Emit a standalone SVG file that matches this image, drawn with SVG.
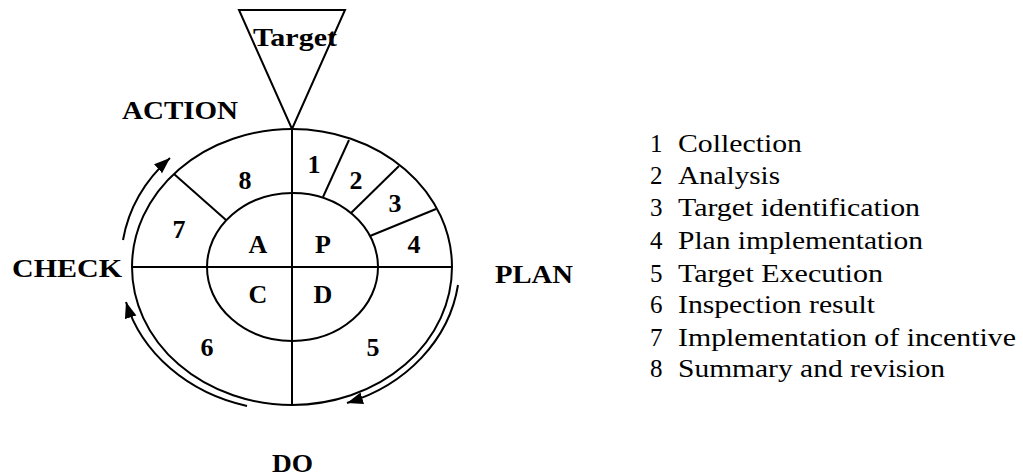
<svg xmlns="http://www.w3.org/2000/svg" width="1023" height="475" viewBox="0 0 1023 475">
<style>
.ln{fill:none;stroke:#000;stroke-width:2}
.ar{fill:none;stroke:#000;stroke-width:2}
.b{font-family:"Liberation Serif","Times New Roman",serif;font-weight:bold;font-size:25px;fill:#000}
.n{font-family:"Liberation Serif","Times New Roman",serif;font-weight:bold;font-size:26px;fill:#000;text-anchor:middle}
.r{font-family:"Liberation Serif","Times New Roman",serif;font-size:25px;fill:#000}
</style>
<defs>
<marker id="ah" markerUnits="userSpaceOnUse" markerWidth="18" markerHeight="14" refX="16" refY="6" orient="auto">
<path d="M0,0 L16,6 L0,12 z" fill="#000"/>
</marker>
</defs>
<rect width="1023" height="475" fill="#fff"/>
<g id="target">
<polygon class="ln" points="239,10 345,10 292,129"/>
<text class="b" x="253" y="46" textLength="84" lengthAdjust="spacingAndGlyphs">Target</text>
</g>
<g id="cycle">
<ellipse class="ln" cx="292" cy="267" rx="160" ry="138"/>
<ellipse class="ln" cx="292.5" cy="267" rx="85.5" ry="74"/>
<line class="ln" x1="132" y1="267" x2="452" y2="267"/>
<line class="ln" x1="292" y1="129" x2="292" y2="405"/>
<line class="ln" x1="323" y1="197" x2="349" y2="140"/>
<line class="ln" x1="351" y1="213" x2="399" y2="166"/>
<line class="ln" x1="370" y1="236" x2="436" y2="209"/>
<line class="ln" x1="226" y1="220" x2="174" y2="174"/>
</g>
<g id="numbers">
<text class="n" x="314" y="173">1</text>
<text class="n" x="356" y="189">2</text>
<text class="n" x="395" y="212">3</text>
<text class="n" x="414" y="253">4</text>
<text class="n" x="373" y="356">5</text>
<text class="n" x="207" y="356">6</text>
<text class="n" x="179" y="238">7</text>
<text class="n" x="245" y="189">8</text>
<text class="n" x="323" y="253">P</text>
<text class="n" x="323" y="303">D</text>
<text class="n" x="258" y="253">A</text>
<text class="n" x="258" y="303">C</text>
</g>
<g id="phase-labels">
<text class="b" x="122" y="119" textLength="116" lengthAdjust="spacingAndGlyphs">ACTION</text>
<text class="b" x="12" y="277" textLength="110" lengthAdjust="spacingAndGlyphs">CHECK</text>
<text class="b" x="495" y="283" textLength="78" lengthAdjust="spacingAndGlyphs">PLAN</text>
<text class="b" x="272" y="472" textLength="41" lengthAdjust="spacingAndGlyphs">DO</text>
</g>
<g id="connectors">
<path class="ar" d="M123,240 A172,150 0 0 1 170,158" marker-end="url(#ah)"/>
<path class="ar" d="M247,406 A168,146 0 0 1 126,302" marker-end="url(#ah)"/>
<path class="ar" d="M458,285 A168,146 0 0 1 347,403" marker-end="url(#ah)"/>
</g>
<g id="legend">
<text class="r" x="650" y="152">1</text><text class="r" x="678" y="152" textLength="124" lengthAdjust="spacingAndGlyphs">Collection</text>
<text class="r" x="650" y="184">2</text><text class="r" x="678" y="184" textLength="102" lengthAdjust="spacingAndGlyphs">Analysis</text>
<text class="r" x="650" y="216">3</text><text class="r" x="678" y="216" textLength="242" lengthAdjust="spacingAndGlyphs">Target identification</text>
<text class="r" x="650" y="249">4</text><text class="r" x="678" y="249" textLength="245" lengthAdjust="spacingAndGlyphs">Plan implementation</text>
<text class="r" x="650" y="282">5</text><text class="r" x="678" y="282" textLength="205" lengthAdjust="spacingAndGlyphs">Target Execution</text>
<text class="r" x="650" y="313">6</text><text class="r" x="678" y="313" textLength="197" lengthAdjust="spacingAndGlyphs">Inspection result</text>
<text class="r" x="650" y="346">7</text><text class="r" x="678" y="346" textLength="338" lengthAdjust="spacingAndGlyphs">Implementation of incentive</text>
<text class="r" x="650" y="377">8</text><text class="r" x="678" y="377" textLength="267" lengthAdjust="spacingAndGlyphs">Summary and revision</text>
</g>
</svg>
